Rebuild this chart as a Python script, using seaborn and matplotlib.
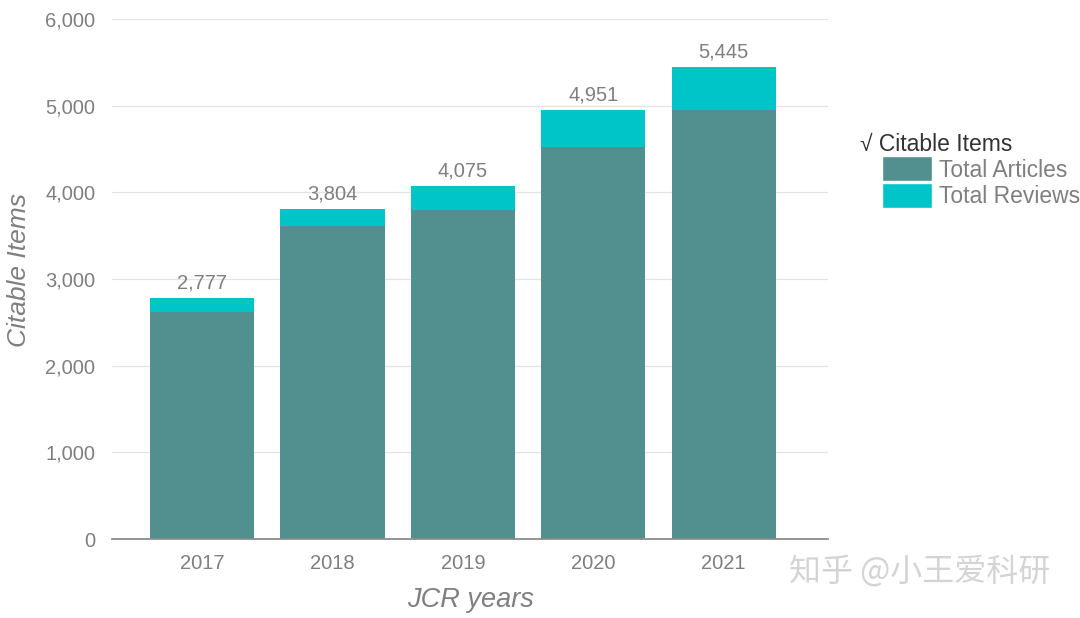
import matplotlib
matplotlib.use("Agg")
import matplotlib.pyplot as plt
import seaborn as sns
import pandas as pd
from matplotlib.patches import Patch

# data
years = ['2017', '2018', '2019', '2020', '2021']
total_items = [2777, 3804, 4075, 4951, 5445]
total_articles = [2620, 3610, 3800, 4525, 4945]

ARTICLE_COLOR = '#52908F'
REVIEW_COLOR = '#00C5C8'
TEXT_GRAY = '#7f7f7f'

sns.set_theme(style='white')
plt.rcParams['font.family'] = ['Liberation Sans', 'DejaVu Sans', 'Noto Sans CJK SC']

df = pd.DataFrame({'year': years, 'total': total_items, 'articles': total_articles})

fig = plt.figure(figsize=(10.8, 6.18), dpi=100)
ax = fig.add_axes([0.1037, 0.1278, 0.6630, 0.8415])

# stacked look: total bar (reviews colour) with articles drawn over it
sns.barplot(data=df, x='year', y='total', color=REVIEW_COLOR, width=0.8,
            saturation=1, linewidth=0, ax=ax, order=years)
sns.barplot(data=df, x='year', y='articles', color=ARTICLE_COLOR, width=0.8,
            saturation=1, linewidth=0, ax=ax, order=years)

ax.bar_label(ax.containers[0], labels=[f'{v:,}' for v in total_items],
             padding=4, color=TEXT_GRAY, fontsize=14.5)

ax.set_ylim(0, 6000)
ax.set_xlim(-0.69, 4.8)
ax.set_yticks(range(0, 6001, 1000))
ax.set_yticklabels([f'{v:,}' for v in range(0, 6001, 1000)])
ax.yaxis.grid(True, color='#e3e3e3', linewidth=0.9)
ax.set_axisbelow(True)
for s in ['top', 'right', 'left']:
    ax.spines[s].set_visible(False)
ax.spines['bottom'].set_color('#8c8c8c')
ax.spines['bottom'].set_linewidth(1.3)
ax.tick_params(axis='both', colors=TEXT_GRAY, labelsize=14.5, length=0)
ax.tick_params(axis='y', pad=12)
ax.tick_params(axis='x', pad=11)

ax.set_xlabel('JCR years', fontsize=19.5, style='italic', color=TEXT_GRAY, labelpad=10)
ax.set_ylabel('Citable Items', fontsize=19, style='italic', color=TEXT_GRAY)
ax.yaxis.set_label_coords(-0.113, 0.517)

# legend: title sits left of the indented patches
fig.text(0.796, 0.767, '√ Citable Items', fontsize=16.5, color='#333333', va='center')
handles = [Patch(facecolor=ARTICLE_COLOR), Patch(facecolor=REVIEW_COLOR)]
leg = fig.legend(handles, ['Total Articles', 'Total Reviews'],
                 loc='upper left', bbox_to_anchor=(0.8167, 0.747), frameon=False,
                 borderpad=0, borderaxespad=0,
                 fontsize=16.5, handlelength=2.2, handleheight=1.3,
                 handletextpad=0.3, labelspacing=0.05)
for t in leg.get_texts():
    t.set_color(TEXT_GRAY)

# watermark
fig.text(0.731, 0.075, '知乎 @小王爱科研', fontsize=23, color='#d4d4d4',
         family=['Noto Sans CJK SC', 'DejaVu Sans'], va='center')

fig.savefig('out.png', dpi=100)
